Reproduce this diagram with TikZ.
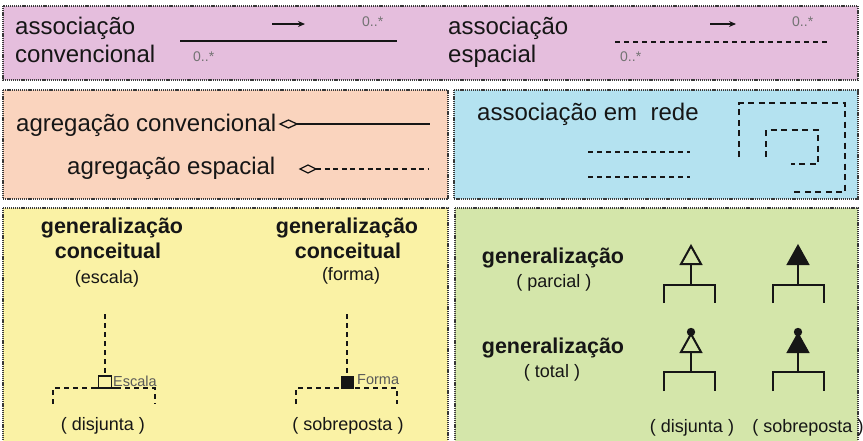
\documentclass[tikz,border=0pt]{standalone}
\usepackage{fontspec}
\setmainfont{Liberation Sans}
\usetikzlibrary{arrows.meta}
\definecolor{cpink}{RGB}{229,190,221}
\definecolor{cpeach}{RGB}{250,212,190}
\definecolor{cblue}{RGB}{180,226,240}
\definecolor{cyellow}{RGB}{250,242,165}
\definecolor{cgreen}{RGB}{212,230,170}
\definecolor{ink}{RGB}{22,22,22}
\begin{document}
\begin{tikzpicture}[x=1pt,y=-1pt,
 panel/.style={draw=ink!85, line width=1.4pt, dash pattern=on 1.2pt off 0.9pt},
 big/.style={font=\fontsize{24}{28}\selectfont, text=ink, inner sep=0pt},
 bigb/.style={font=\fontsize{21.5}{26}\selectfont\bfseries, text=ink, inner sep=0pt},
 sub/.style={font=\fontsize{18}{22}\selectfont, text=ink, inner sep=0pt},
 mult/.style={font=\fontsize{14}{16}\selectfont, text=black!55, inner sep=0pt},
 tag/.style={font=\fontsize{14.5}{16}\selectfont, text=black!65, inner sep=0pt},
 solidline/.style={draw=ink, line width=1.4pt},
 dashline/.style={draw=ink, line width=1.6pt, dash pattern=on 5pt off 4pt},
 netline/.style={draw=ink, line width=2.2pt, dash pattern=on 6pt off 4.5pt},
 genline/.style={draw=ink, line width=2pt},
 gdash/.style={draw=ink, line width=1.8pt, dash pattern=on 5pt off 4pt},
 dir/.style={draw=ink, line width=1.2pt, -{Stealth[length=7pt,width=6pt]}},
]
\useasboundingbox (0,0) rectangle (863,440);
\clip (0,0) rectangle (863,440);
\fill[white] (0,0) rectangle (863,440);

% panels
\path[panel, fill=cpink] (3,6) rectangle (858,80);
\path[panel, fill=cpeach] (3,90) rectangle (448,199);
\path[panel, fill=cblue] (454,90) rectangle (858,199);
\path[panel, fill=cyellow] (3,208) rectangle (448,450);
\path[panel, fill=cgreen] (455,208) rectangle (858,450);

% ---------- row 1 ----------
\node[big, anchor=base west] (ac1) at (15,34) {associação};
\node[big, anchor=base west] (ac2) at (15,62) {convencional};
\coordinate (acL) at (180,41);
\coordinate (acR) at (397,41);
\draw[solidline] (acL) -- (acR);
\coordinate (ad1) at (272,24);
\coordinate (ad2) at (305,24);
\draw[dir] (ad1) -- (ad2);
\node[mult, anchor=west] (am1) at (362,22) {0..*};
\node[mult, anchor=west] (am2) at (193,57) {0..*};

\node[big, anchor=base west] (as1) at (448,34) {associação};
\node[big, anchor=base west] (as2) at (448,62) {espacial};
\coordinate (asL) at (615,42);
\coordinate (asR) at (828,42);
\draw[dashline] (asL) -- (asR);
\coordinate (asd1) at (710,24);
\coordinate (asd2) at (736,24);
\draw[dir] (asd1) -- (asd2);
\node[mult, anchor=west] (asm1) at (792,22) {0..*};
\node[mult, anchor=west] (asm2) at (620,57) {0..*};

% ---------- row 2 left ----------
\node[big, anchor=base west] (gc) at (16,131) {agregação convencional};
\coordinate (gcA) at (280,124);
\coordinate (gcB) at (297,124);
\coordinate (gcE) at (430,124);
\draw[solidline] (gcB) -- (gcE);
\draw[draw=ink, line width=1.3pt, fill=cpeach] (gcA) -- (288.5,120) -- (gcB) -- (288.5,128) -- cycle;

\node[big, anchor=base west] (ge) at (67,174) {agregação espacial};
\coordinate (geA) at (300,169);
\coordinate (geB) at (316,169);
\coordinate (geE) at (428,169);
\draw[draw=ink, line width=1.6pt, dash pattern=on 5pt off 3.6pt] (geB) -- (geE);
\draw[draw=ink, line width=1.3pt, fill=cpeach] (geA) -- (308,165) -- (geB) -- (308,173) -- cycle;

% ---------- row 2 right ----------
\node[big, anchor=base west] (ar) at (477,120) {associação em\ \ rede};
\coordinate (ar1a) at (588,152);
\coordinate (ar1b) at (690,152);
\coordinate (ar2a) at (588,177);
\coordinate (ar2b) at (690,177);
\draw[dashline] (ar1a) -- (ar1b);
\draw[dashline] (ar2a) -- (ar2b);
\coordinate (no1) at (739,157);
\coordinate (no2) at (792,192);
\draw[netline] (no1) -- (739,103) -- (845,103) -- (845,192) -- (no2);
\coordinate (ni1) at (766,157);
\coordinate (ni2) at (791,164);
\draw[netline] (ni1) -- (766,130) -- (818,130) -- (818,164) -- (ni2);

% ---------- row 3 left ----------
\node[bigb, anchor=base] (g1a) at (112,233) {generalização};
\node[bigb, anchor=base] (g1b) at (108,258) {conceitual};
\node[sub, anchor=base] (g1c) at (107,283) {(escala)};
\coordinate (e1) at (105,314);
\coordinate (e2) at (105,376);
\draw[gdash] (e1) -- (e2);
\draw[draw=ink, line width=1.8pt] (98.5,388) -- (98.5,376) -- (111.5,376) -- (111.5,388);
\draw[draw=ink, line width=1.8pt] (94,388) -- (116,388);
\draw[gdash] (53,404) -- (53,388) -- (94,388);
\draw[gdash] (116,388) -- (155,388) -- (155,404);
\node[tag, anchor=west] (esc) at (113,381) {Escala};
\node[sub, anchor=base] (dj1) at (103,430) {( disjunta )};

\node[bigb, anchor=base] (g2a) at (347,233) {generalização};
\node[bigb, anchor=base] (g2b) at (348,258) {conceitual};
\node[sub, anchor=base] (g2c) at (351,280) {(forma)};
\coordinate (f1) at (347,314);
\coordinate (f2) at (347,376);
\draw[gdash] (f1) -- (f2);
\fill[ink] (340.5,376) rectangle (354,388.5);
\draw[gdash] (296,404) -- (296,388) -- (340,388);
\draw[gdash] (355,388) -- (397,388) -- (397,404);
\node[tag, anchor=west] (frm) at (357,380) {Forma};
\node[sub, anchor=base] (sb1) at (348,430) {( sobreposta )};

% ---------- row 3 right ----------
\node[bigb, anchor=base] (gp) at (553,263) {generalização};
\node[sub, anchor=base] (gpp) at (554,287) {( parcial )};
\node[bigb, anchor=base] (gt) at (553,353) {generalização};
\node[sub, anchor=base] (gtt) at (552,377) {( total )};

% partial disjoint
\coordinate (pd) at (691,264);
\draw[genline, fill=cgreen, line join=miter] (691,246) -- (701,264) -- (681,264) -- cycle;
\draw[genline] (pd) -- (691,285);
\draw[genline] (664,303) -- (664,285) -- (715,285) -- (715,303);
% partial overlapping
\coordinate (po) at (798,264);
\draw[genline, fill=ink, line join=miter] (798,246) -- (808,264) -- (788,264) -- cycle;
\draw[genline] (po) -- (798,285);
\draw[genline] (773,303) -- (773,285) -- (824,285) -- (824,303);
% total disjoint
\coordinate (td) at (691,352);
\draw[genline, fill=cgreen, line join=miter] (691,334) -- (701,352) -- (681,352) -- cycle;
\fill[ink] (691,332) circle (4.2pt);
\draw[genline] (td) -- (691,372);
\draw[genline] (664,391) -- (664,372) -- (715,372) -- (715,391);
% total overlapping
\coordinate (to) at (798,352);
\draw[genline, fill=ink, line join=miter] (798,334) -- (808,352) -- (788,352) -- cycle;
\fill[ink] (798,332) circle (4.2pt);
\draw[genline] (to) -- (798,372);
\draw[genline] (773,391) -- (773,372) -- (824,372) -- (824,391);

\node[sub, anchor=base] (dj2) at (692,432) {( disjunta )};
\node[sub, anchor=base] (sb2) at (808,432) {( sobreposta )};
\end{tikzpicture}
\end{document}
